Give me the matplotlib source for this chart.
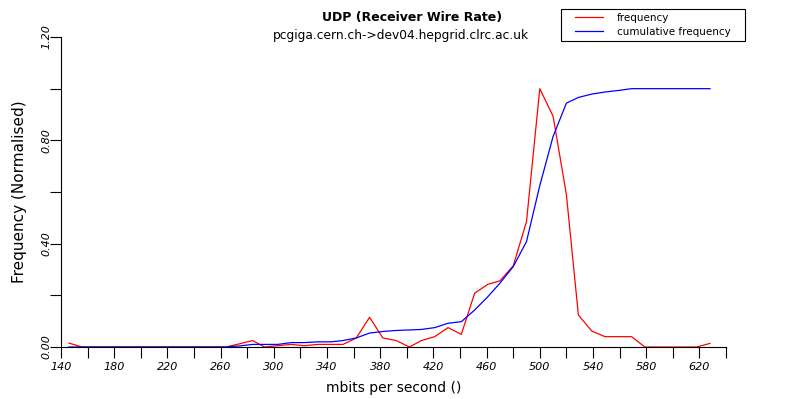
import matplotlib
matplotlib.use("Agg")
import matplotlib.pyplot as plt
from matplotlib.patches import Rectangle
from matplotlib.ticker import FixedLocator, MultipleLocator, FormatStrFormatter

# bin centres (mbits per second)
rate = [146, 156, 166, 175, 185, 195, 205, 215, 225, 234,
        244, 254, 264, 274, 284, 293, 303, 313, 323, 333,
        343, 352, 362, 372, 382, 392, 402, 411, 421, 431,
        441, 451, 461, 470, 480, 490, 500, 510, 520, 529,
        539, 549, 559, 569, 579, 588, 598, 608, 618, 628]

frequency = [0.015, 0, 0, 0, 0, 0, 0, 0, 0, 0,
             0, 0, 0, 0.012, 0.025, 0.0, 0.005, 0.01, 0.005, 0.01,
             0.01, 0.01, 0.035, 0.115, 0.035, 0.025, 0.0, 0.025, 0.04, 0.075,
             0.049, 0.208, 0.243, 0.256, 0.314, 0.485, 1.0, 0.893, 0.59, 0.124,
             0.062, 0.04, 0.04, 0.04, 0.0, 0, 0, 0, 0.0, 0.014]

cumulative = [0, 0, 0, 0, 0, 0, 0, 0, 0, 0,
              0, 0, 0, 0.004, 0.01, 0.01, 0.01, 0.017, 0.017, 0.02,
              0.02, 0.025, 0.035, 0.054, 0.06, 0.064, 0.066, 0.068, 0.075, 0.092,
              0.098, 0.143, 0.195, 0.247, 0.311, 0.408, 0.625, 0.815, 0.944, 0.966,
              0.979, 0.987, 0.993, 1.0, 1.0, 1.0, 1.0, 1.0, 1.0, 1.0]

xtick_labels = [140, 180, 220, 260, 300, 340, 380, 420, 460, 500, 540, 580, 620]

W, H = 788, 399
fig = plt.figure(figsize=(W / 100, H / 100), dpi=100)
ax = fig.add_axes([61 / W, (H - 347) / H, (726 - 61) / W, (347 - 37) / H])

ax.plot(rate, frequency, color="red", lw=0.9, label="frequency")
ax.plot(rate, cumulative, color="blue", lw=0.9, label="cumulative frequency")

ax.set_xlim(140, 640)
ax.set_ylim(0, 1.2)
ax.spines['top'].set_visible(False)
ax.spines['right'].set_visible(False)
ax.spines['left'].set_linewidth(0.8)
ax.spines['bottom'].set_linewidth(0.8)

ax.xaxis.set_major_locator(FixedLocator(xtick_labels))
ax.xaxis.set_minor_locator(MultipleLocator(20))
ax.yaxis.set_major_locator(MultipleLocator(0.4))
ax.yaxis.set_minor_locator(MultipleLocator(0.2))
ax.yaxis.set_major_formatter(FormatStrFormatter("%.2f"))
ax.tick_params(which="both", length=8, width=0.8, direction="out")
ax.tick_params(axis="x", labelsize=8, pad=2.5)
ax.tick_params(axis="y", labelsize=8, pad=-1)
for lbl in ax.get_xticklabels():
    lbl.set_fontstyle("italic")
for lbl in ax.get_yticklabels():
    lbl.set_fontstyle("italic")
    lbl.set_rotation(90)
    lbl.set_va("center")

ax.set_xlabel("mbits per second ()", fontsize=10, labelpad=7)
ax.set_ylabel("Frequency (Normalised)", fontsize=11, labelpad=10)

fig.text(412 / W, 1 - 17 / H, "UDP (Receiver Wire Rate)", ha="center", va="center",
         fontsize=9, fontweight="bold")
fig.text(401 / W, 1 - 36 / H, "pcgiga.cern.ch->dev04.hepgrid.clrc.ac.uk", ha="center",
         va="center", fontsize=8.8)

# legend box
fig.patches.append(Rectangle((561 / W, 1 - 41 / H), (745 - 561) / W, 32 / H,
                             transform=fig.transFigure, fill=False,
                             edgecolor="black", lw=0.8))
fig.legend(loc="upper left", bbox_to_anchor=(572 / W, 1 - 10 / H),
           fontsize=7.5, frameon=False, borderpad=0.3, handlelength=2.7,
           handletextpad=1.3, labelspacing=0.35, borderaxespad=0)

plt.savefig("out.png", dpi=100)
